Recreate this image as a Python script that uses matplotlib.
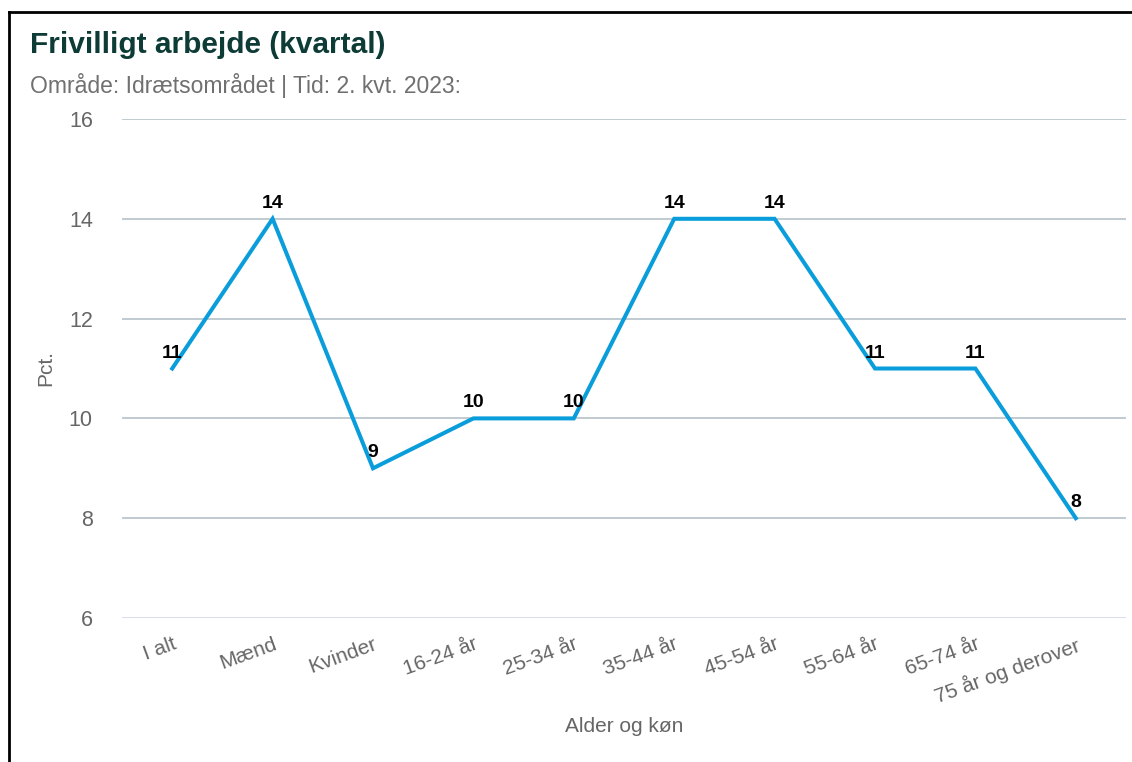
import matplotlib
matplotlib.use("Agg")
import matplotlib.pyplot as plt
from matplotlib.lines import Line2D

plt.rcParams['font.family'] = ['Liberation Sans', 'DejaVu Sans']

categories = ["I alt", "Mænd", "Kvinder", "16-24 år", "25-34 år", "35-44 år",
              "45-54 år", "55-64 år", "65-74 år", "75 år og derover"]
values = [11, 14, 9, 10, 10, 14, 14, 11, 11, 8]
yticks = [6, 8, 10, 12, 14, 16]

title = "Frivilligt arbejde (kvartal)"
subtitle = "Område: Idrætsområdet | Tid: 2. kvt. 2023:"
xlabel = "Alder og køn"
ylabel = "Pct."

W, H = 1132, 762
fig = plt.figure(figsize=(W / 100, H / 100), dpi=100)
fig.patch.set_facecolor("white")

ax = fig.add_axes([122 / W, 1 - 618 / H, (1126 - 122) / W, (618 - 119) / H])
x = list(range(len(categories)))
ax.plot(x, values, color="#0a9ddb", lw=2.9, solid_joinstyle="miter", zorder=3)

for xi, v in zip(x, values):
    ax.annotate(str(v), (xi, v), xytext=(0, 5), textcoords="offset points",
                ha="center", va="bottom", fontsize=14, fontweight="bold",
                color="black", zorder=4)

ax.set_xlim(-0.5, len(categories) - 0.5)
ax.set_ylim(6, 16)
ax.set_yticks(yticks)
ax.set_yticklabels([str(t) for t in yticks], fontsize=15.5, color="#666666")
for t in yticks:
    ax.axhline(t, color="#ccd6eb" if t == 6 else "#aebcc5", lw=1.1, zorder=1)
ax.grid(False)
ax.set_xticks(x)
ax.set_xticklabels(categories, rotation=20, ha="right", rotation_mode="anchor",
                   fontsize=15, color="#666666")
ax.tick_params(axis="x", length=0, pad=12)
ax.tick_params(axis="y", length=0, pad=21)
for s in ax.spines.values():
    s.set_visible(False)

ax.set_xlabel(xlabel, fontsize=15, color="#666666", labelpad=7)
ax.set_ylabel(ylabel, fontsize=15, color="#666666", labelpad=10)

fig.text(30 / W, 1 - 45 / H, title, fontsize=21.5, fontweight="bold",
         color="#0d3b36", va="center", ha="left")
fig.text(30 / W, 1 - 86 / H, subtitle, fontsize=16.5, color="#707070",
         va="center", ha="left")

# border frame (left and top)
fig.add_artist(Line2D([9 / W, 9 / W], [0, 1 - 12 / H], transform=fig.transFigure,
                      color="black", lw=2))
fig.add_artist(Line2D([9 / W, 1], [1 - 12 / H, 1 - 12 / H], transform=fig.transFigure,
                      color="black", lw=2))

fig.savefig("out.png", dpi=100)
